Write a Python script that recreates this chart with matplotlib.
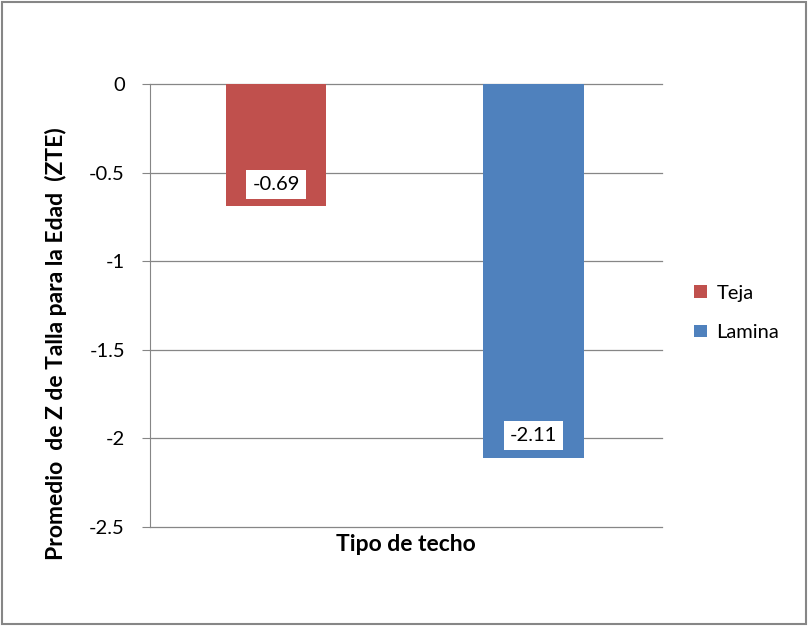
import matplotlib.pyplot as plt
from matplotlib.patches import Rectangle

plt.rcParams['font.family'] = ['Lato', 'DejaVu Sans']

series = ['Teja', 'Lamina']
values = [-0.69, -2.11]
colors = ['#C0504D', '#4F81BD']
yticks = [0, -0.5, -1, -1.5, -2, -2.5]

fig = plt.figure(figsize=(8.08, 6.26), dpi=100)
ax = fig.add_axes([0.1856, 0.1581, 0.6337, 0.7077])

for i, (name, v, c) in enumerate(zip(series, values, colors)):
    ax.bar(i, v, width=0.39, color=c, label=name, zorder=3)
    ax.annotate(f'{v:.2f}', xy=(i, v), xytext=(0, 16), textcoords='offset points',
                ha='center', va='center', fontsize=14.5, zorder=4,
                bbox=dict(boxstyle='square,pad=0.3', fc='white', ec='none'))

ax.set_xlim(-0.49, 1.5)
ax.set_ylim(-2.5, 0)
ax.set_yticks(yticks)
ax.set_yticklabels(['0', '-0.5', '-1', '-1.5', '-2', '-2.5'], fontsize=14.5)
ax.set_xticks([])
for t in yticks:
    ax.axhline(t, color='#868686', linewidth=0.9, zorder=0, clip_on=False)
ax.tick_params(axis='y', length=6, color='#868686', pad=12)
for s in ['right', 'bottom', 'top']:
    ax.spines[s].set_visible(False)
ax.spines['left'].set_color('#868686')

ax.set_ylabel('Promedio  de Z de Talla para la Edad  (ZTE)', fontsize=16.5, fontweight='bold')
ax.yaxis.set_label_coords(-0.162, 0.415)
ax.set_xlabel('Tipo de techo', fontsize=16.5, fontweight='bold', labelpad=5)

fig.legend(loc='center left', bbox_to_anchor=(0.837, 0.5), frameon=False, fontsize=14.5,
           handlelength=0.6, handleheight=0.6, labelspacing=1.1, handletextpad=0.5)

fig.add_artist(Rectangle((0.003, 0.003), 0.994, 0.994, transform=fig.transFigure,
                         fill=False, ec='#868686', lw=1.5))

fig.savefig('out.png', dpi=100)
